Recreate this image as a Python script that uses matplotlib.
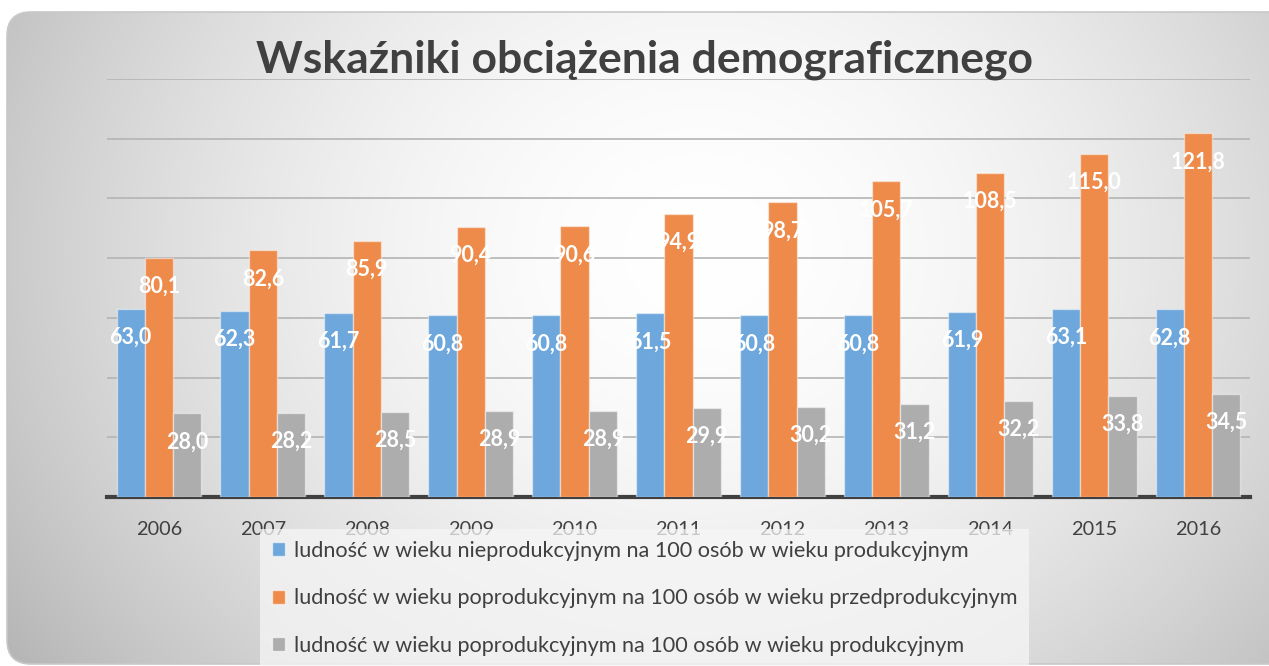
import numpy as np
import matplotlib
matplotlib.use("Agg")
import matplotlib.pyplot as plt
from matplotlib.patches import FancyBboxPatch, Patch

years = ["2006", "2007", "2008", "2009", "2010", "2011", "2012", "2013", "2014", "2015", "2016"]
nieprod = [63.0, 62.3, 61.7, 60.8, 60.8, 61.5, 60.8, 60.8, 61.9, 63.1, 62.8]
poprod_przed = [80.1, 82.6, 85.9, 90.4, 90.6, 94.9, 98.7, 105.7, 108.5, 115.0, 121.8]
poprod_prod = [28.0, 28.2, 28.5, 28.9, 28.9, 29.9, 30.2, 31.2, 32.2, 33.8, 34.5]
series_names = [
    "ludność w wieku nieprodukcyjnym na 100 osób w wieku produkcyjnym",
    "ludność w wieku poprodukcyjnym na 100 osób w wieku przedprodukcyjnym",
    "ludność w wieku poprodukcyjnym na 100 osób w wieku produkcyjnym",
]
colors = ["#6DA7DB", "#EE8B4B", "#ADADAD"]

plt.rcParams["font.family"] = ["Lato", "DejaVu Sans"]

W, H = 1269, 666
fig = plt.figure(figsize=(W / 100, H / 100), dpi=100)
fig.patch.set_facecolor("white")

# background: rounded panel with radial grey gradient
bg = fig.add_axes([0, 0, 1, 1], zorder=-5)
bg.set_xlim(0, W)
bg.set_ylim(H, 0)
bg.axis("off")
yy, xx = np.mgrid[0:H, 0:W]
d = np.sqrt(((xx - 700) / 720.0) ** 2 + ((yy - 250) / 620.0) ** 2)
shade = 1 - 0.22 * np.clip(d, 0, 1.2) ** 1.8
img = bg.imshow(np.dstack([shade] * 3), extent=(0, W, H, 0), aspect="auto")
panel = FancyBboxPatch((7, 12), 1290, 652, boxstyle="round,pad=0,rounding_size=24",
                       facecolor="none", edgecolor="#C8C8C8", lw=1.2)
bg.add_patch(panel)
img.set_clip_path(panel)

ax = fig.add_axes([107 / W, 1 - 497 / H, 1143 / W, 418 / H])
ax.set_facecolor("none")

x = np.arange(len(years))
bw = 0.272
for i, (vals, col) in enumerate(zip([nieprod, poprod_przed, poprod_prod], colors)):
    pos = x + (i - 1) * bw
    bars = ax.bar(pos, vals, bw, color=col, edgecolor=(1, 1, 1, 0.45), linewidth=1, zorder=3)
    for b, v in zip(bars, vals):
        ax.annotate(f"{v:.1f}".replace(".", ","), (b.get_x() + b.get_width() / 2, v),
                    xytext=(0, -20.5), textcoords="offset points", ha="center", va="center",
                    color="white", fontsize=15.5, fontweight="bold", zorder=4)

ax.set_ylim(0, 140)
ax.set_xlim(-0.5, len(years) - 0.5)
ax.set_yticks(np.arange(20, 141, 20))
ax.yaxis.grid(True, color="#B4B4B4", lw=1.2, zorder=0)
ax.set_axisbelow(True)
ax.tick_params(axis="y", left=False, labelleft=False)
ax.set_xticks(x)
ax.set_xticklabels(years, fontsize=14.3, color="#404040")
ax.tick_params(axis="x", length=0, pad=17)
for s in ["left", "right", "top"]:
    ax.spines[s].set_visible(False)
ax.spines["bottom"].set_color("#404040")
ax.spines["bottom"].set_linewidth(3)

fig.text(644 / W, 1 - 60 / H, "Wskaźniki obciążenia demograficznego", ha="center", va="center",
         fontsize=32, fontweight="bold", color="#404040")

handles = [Patch(facecolor=c, edgecolor=(1, 1, 1, 0.6)) for c in colors]
leg = fig.legend(handles, series_names, loc="upper left", bbox_to_anchor=(260 / W, 1 - 529 / H),
                 fontsize=15.6, frameon=True, fancybox=False, labelspacing=1.27,
                 handlelength=0.6, handleheight=0.6, handletextpad=0.4, borderpad=0.55,
                 borderaxespad=0)
leg.get_frame().set_facecolor("#F6F6F6")
leg.get_frame().set_alpha(0.75)
leg.get_frame().set_edgecolor("none")
for t in leg.get_texts():
    t.set_color("#404040")

fig.savefig("out.png", dpi=100)
